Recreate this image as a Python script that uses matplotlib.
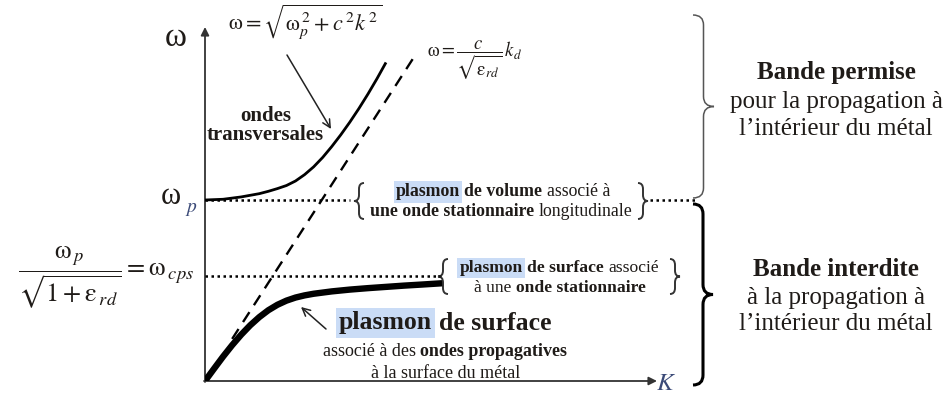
import numpy as np
import matplotlib.pyplot as plt
from matplotlib.path import Path
from matplotlib.patches import PathPatch

plt.rcParams['font.family'] = ['Liberation Serif', 'DejaVu Serif']
plt.rcParams['mathtext.fontset'] = 'stix'

INK = '#1f1b18'
SUB = '#3b4a78'
HL = '#cadcf6'

# dispersion curves (K, omega), omega_p = 1
k_trans = [0, 0.1, 0.2, 0.3, 0.35, 0.4, 0.45, 0.5, 0.55, 0.6, 0.65, 0.7, 0.75, 0.8, 0.85, 0.9,
           0.95, 1.0]
w_trans = [1.0, 1.004, 1.017, 1.035, 1.048, 1.063, 1.08, 1.105, 1.14, 1.183, 1.235, 1.295, 1.36,
           1.43, 1.505, 1.585, 1.67, 1.76]
k_surf = [0, 0.05, 0.1, 0.15, 0.2, 0.25, 0.3, 0.35, 0.4, 0.45, 0.5, 0.55, 0.6, 0.7, 0.8, 0.9,
          1.0, 1.1, 1.2, 1.31]
w_surf = [0, 0.068, 0.135, 0.198, 0.256, 0.308, 0.353, 0.391, 0.421, 0.444, 0.461, 0.473, 0.482,
          0.495, 0.505, 0.513, 0.52, 0.527, 0.533, 0.54]
k_light = [0.15, 1.15]
light_slope = 1.55
w_p = 1.0
w_cps = 0.58

fig = plt.figure(figsize=(9.44, 3.97), dpi=100)

# layout axes in pixel units
base = fig.add_axes([0, 0, 1, 1])
base.set_xlim(0, 944)
base.set_ylim(397, 0)
base.axis('off')

# physics axes: origin at (205, 381) px, 181 px per unit
ox, oy, u = 205, 381, 181
ax = fig.add_axes([ox / 944, (397 - oy) / 397, 500 / 944, 361 / 397])
ax.set_xlim(0, 500 / u)
ax.set_ylim(0, 361 / u)
ax.axis('off')
ax.patch.set_alpha(0)

ax.plot(k_trans, w_trans, color='black', lw=2.0, solid_capstyle='butt', solid_joinstyle='round')
ax.plot(k_surf, w_surf, color='black', lw=4.6, solid_capstyle='butt', solid_joinstyle='round')
ax.plot(k_light, [light_slope * k for k in k_light], color='black', lw=1.7, ls=(0, (5, 3.5)))

dots = (0, (1, 1.4))
ax.plot([0, 145 / u], [w_p, w_p], color='black', lw=1.8, ls=dots)
ax.plot([445 / u, 492 / u], [w_p, w_p], color='black', lw=1.8, ls=dots, clip_on=False)
ax.plot([0, 235 / u], [w_cps, w_cps], color='black', lw=1.8, ls=dots)

# axes with arrows
arrow = dict(arrowstyle='-|>', color='#333333', lw=1.3, mutation_scale=12, shrinkA=0, shrinkB=0)
base.annotate('', xy=(205, 27), xytext=(205, 382), arrowprops=arrow)
base.annotate('', xy=(657, 381), xytext=(204, 381), arrowprops=arrow)


def brace(x, y0, y1, w, lw, color, r=9):
    xm = x + w / 2
    ym = (y0 + y1) / 2
    verts = [(x, y0), (xm, y0), (xm, y0 + r),
             (xm, ym - r), (xm, ym), (x + w, ym),
             (xm, ym), (xm, ym + r),
             (xm, y1 - r), (xm, y1), (x, y1)]
    codes = [Path.MOVETO, Path.CURVE3, Path.CURVE3,
             Path.LINETO, Path.CURVE3, Path.CURVE3,
             Path.CURVE3, Path.CURVE3,
             Path.LINETO, Path.CURVE3, Path.CURVE3]
    base.add_patch(PathPatch(Path(verts, codes), fc='none', ec=color, lw=lw))


brace(693, 15, 198, 21, 1.1, '#555555', r=10)
brace(693, 204, 385, 20, 2.2, 'black', r=10)
brace(364, 183, 219, -10, 1.4, '#333333', r=6)
brace(638, 183, 219, 10, 1.4, '#333333', r=6)
brace(448, 259, 294, -10, 1.4, '#333333', r=6)
brace(670, 259, 294, 10, 1.4, '#333333', r=6)

renderer = fig.canvas.get_renderer()


def runs(xc, y, parts, size):
    probe = base.text(0, 0, 'a a', fontsize=size)
    probe2 = base.text(0, 0, 'aa', fontsize=size)
    sp = probe.get_window_extent(renderer).width - probe2.get_window_extent(renderer).width
    probe.remove()
    probe2.remove()
    texts, widths = [], []
    for s, weight, hl in parts:
        kw = {}
        if hl:
            kw['bbox'] = dict(boxstyle='square,pad=0.12', fc=HL, ec='none')
        t = base.text(0, y, s, fontsize=size, fontweight=weight, color=INK, va='center', ha='left', **kw)
        texts.append(t)
        widths.append(t.get_window_extent(renderer).width)
    total = sum(widths) + sp * (len(parts) - 1)
    x = xc - total / 2
    for t, w in zip(texts, widths):
        t.set_x(x)
        x += w + sp


runs(503, 192, [('plasmon', 'bold', True), ('de volume', 'bold', False),
                ('associé à', 'normal', False)], 12.8)
runs(501, 211, [('une onde stationnaire', 'bold', False), ('longitudinale', 'normal', False)], 12.8)
runs(559, 268, [('plasmon', 'bold', True), ('de surface', 'bold', False),
                ('associé', 'normal', False)], 12.6)
runs(560, 288, [('à une', 'normal', False), ('onde stationnaire', 'bold', False)], 12.6)
runs(445, 323, [('plasmon', 'bold', True), ('de surface', 'bold', False)], 18.5)
runs(445, 351, [('associé à des', 'normal', False), ('ondes propagatives', 'bold', False)], 13)
base.text(446, 373, 'à la surface du métal', fontsize=13, color=INK, ha='center', va='center')

base.text(266, 116, 'ondes', fontsize=15, fontweight='bold', color=INK, ha='center', va='center')
base.text(265, 135, 'transversales', fontsize=15, fontweight='bold', color=INK, ha='center', va='center')

# arrows pointing at the curves
thin = dict(arrowstyle='->', color='#222222', lw=1.1, mutation_scale=14, shrinkA=0, shrinkB=0)
base.annotate('', xy=(331, 129), xytext=(287, 55), arrowprops=thin)
base.annotate('', xy=(301, 307), xytext=(326, 329), arrowprops=thin)

# labels and formulas
W = r'\mathrm{\omega}'
E = r'\mathrm{\varepsilon}'
base.text(176, 38, 'ω', fontsize=24, color=INK, ha='center', va='center')
base.text(666, 384, r'$K$', fontsize=18, color=SUB, ha='center', va='center')
base.text(171, 196, 'ω', fontsize=22, color=INK, ha='center', va='center')
base.text(191, 210, r'$p$', fontsize=14, color=SUB, ha='center', va='center')
base.text(305, 22, rf'${W} = \sqrt{{{W}_p^{{\,2}} + c^{{\,2}}k^{{\,2}}}}$', fontsize=16,
          color=INK, ha='center', va='center')
base.text(475, 60, rf'${W} = \dfrac{{c}}{{\sqrt{{{E}_{{rd}}}}}}\,k_d$', fontsize=13.5,
          color=INK, ha='center', va='center')
base.text(106, 278, rf'$\dfrac{{{W}_{{\,p}}}}{{\sqrt{{1+{E}_{{\,rd}}}}}} = {W}_{{\,cps}}$',
          fontsize=19, color=INK, ha='center', va='center')

# band labels
bands = [
    (73, 'Bande permise', 'bold'),
    (102, 'pour la propagation à', 'normal'),
    (129, 'l\u2019intérieur du métal', 'normal'),
    (270, 'Bande interdite', 'bold'),
    (298, 'à la propagation à', 'normal'),
    (324, 'l\u2019intérieur du métal', 'normal'),
]
for y, s, wgt in bands:
    base.text(836, y, s, fontsize=18, fontweight=wgt, color=INK, ha='center', va='center')

fig.savefig('out.png', dpi=100)
